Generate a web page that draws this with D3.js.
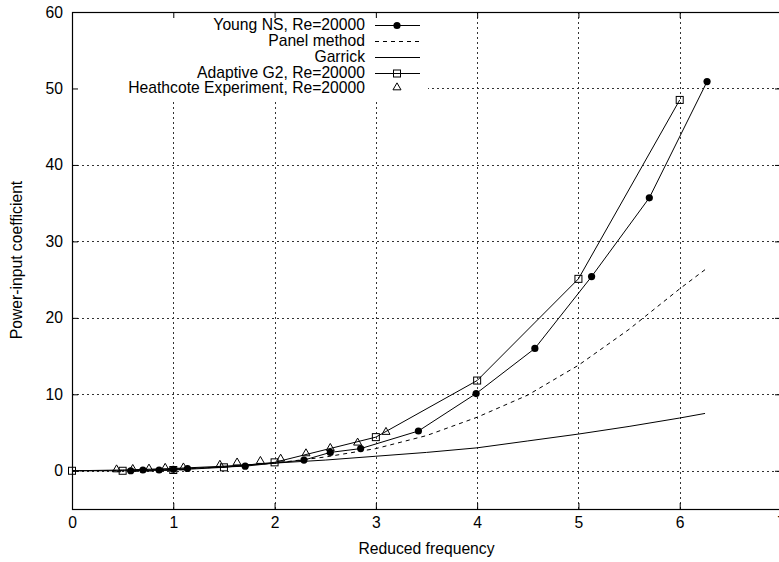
<!DOCTYPE html>
<html>
<head>
<meta charset="utf-8">
<script src="https://cdn.jsdelivr.net/npm/d3@7"></script>
<style>
  body { margin: 0; background: #fff; }
  svg { display: block; font-family: "Liberation Sans", Arial, sans-serif; }
</style>
</head>
<body>
<svg id="chart" width="779" height="562"></svg>
<script>
'use strict';

// Young NS, Re=20000 (filled circles)
var youngX = [0.58, 0.70, 0.86, 1.00, 1.14, 1.71, 2.29, 2.55, 2.85, 3.42, 3.99, 4.57, 5.13, 5.70, 6.27];
var youngY = [0.0, 0.1, 0.1, 0.2, 0.3, 0.6, 1.4, 2.4, 2.9, 5.2, 10.1, 16.0, 25.4, 35.7, 50.9];

// Panel method (dashed)
var panelX = [0, 0.5, 1.0, 1.5, 2.0, 2.5, 3.0, 3.5, 4.0, 4.5, 5.0, 5.5, 6.0, 6.25];
var panelY = [0, 0.05, 0.2, 0.5, 1.0, 1.8, 2.9, 4.6, 7.0, 9.9, 13.8, 18.5, 23.8, 26.3];

// Garrick (solid)
var garrickX = [0, 0.5, 1.0, 1.5, 2.0, 2.5, 3.0, 3.5, 4.0, 4.5, 5.0, 5.5, 6.0, 6.25];
var garrickY = [0, 0.1, 0.3, 0.6, 1.0, 1.4, 1.9, 2.4, 3.0, 3.9, 4.8, 5.8, 6.9, 7.5];

// Adaptive G2, Re=20000 (open squares)
var adaptX = [0, 0.5, 1.0, 1.5, 2.0, 3.0, 4.0, 5.0, 6.0];
var adaptY = [0, 0.0, 0.1, 0.45, 1.1, 4.4, 11.8, 25.1, 48.5];

// Heathcote Experiment, Re=20000 (open triangles)
var heathX = [0.44, 0.60, 0.76, 0.92, 1.10, 1.46, 1.63, 1.86, 2.06, 2.31, 2.55, 2.82, 3.10];
var heathY = [0.1, 0.15, 0.2, 0.3, 0.35, 0.7, 1.0, 1.2, 1.5, 2.2, 2.9, 3.6, 5.0];

var xTicks = [0, 1, 2, 3, 4, 5, 6, 7];
var yTicks = [0, 10, 20, 30, 40, 50, 60];

var legendNames = ['Young NS, Re=20000', 'Panel method', 'Garrick', 'Adaptive G2, Re=20000', 'Heathcote Experiment, Re=20000'];

var svg = d3.select('#chart');

var nLeft = 72, nRight = 781, nTop = 12, nBottom = 509;
var nFont = 15.7;

var xScale = d3.scaleLinear().domain([0, 7]).range([nLeft, nRight]);
var yScale = d3.scaleLinear().domain([-5, 60]).range([nBottom, nTop]);

function zip(xs, ys) {
	return xs.map(function(v, i) { return [v, ys[i]]; });
}
function snap(v) {
	return Math.round(v) + 0.5;
}

// grid (dotted)
var grid = svg.append('g');
grid.selectAll('line.gx')
	.data(xTicks.slice(1, -1))
	.enter().append('line')
	.attr('class', 'gx')
	.attr('x1', function(d) { return snap(xScale(d)); })
	.attr('x2', function(d) { return snap(xScale(d)); })
	.attr('y1', nTop).attr('y2', nBottom);
grid.selectAll('line.gy')
	.data(yTicks.slice(0, -1))
	.enter().append('line')
	.attr('class', 'gy')
	.attr('x1', nLeft).attr('x2', nRight)
	.attr('y1', function(d) { return snap(yScale(d)); })
	.attr('y2', function(d) { return snap(yScale(d)); });
grid.selectAll('line')
	.style('stroke', '#333')
	.style('stroke-width', '1px')
	.style('stroke-dasharray', '2,3');

// legend background hides grid
svg.append('rect')
	.attr('x', nLeft + 1).attr('y', nTop + 1)
	.attr('width', 428 - nLeft - 1).attr('height', 99 - nTop - 1)
	.attr('fill', '#fff');

// curves
var line = d3.line()
	.x(function(d) { return xScale(d[0]); })
	.y(function(d) { return yScale(d[1]); });

var plot = svg.append('g');

plot.append('path').datum(zip(garrickX, garrickY))
	.attr('d', line).attr('fill', 'none').attr('stroke', '#000').attr('stroke-width', 1);

plot.append('path').datum(zip(panelX, panelY))
	.attr('d', line).attr('fill', 'none').attr('stroke', '#000').attr('stroke-width', 1)
	.attr('stroke-dasharray', '4,4');

plot.append('path').datum(zip(youngX, youngY))
	.attr('d', line).attr('fill', 'none').attr('stroke', '#000').attr('stroke-width', 1);

plot.append('path').datum(zip(adaptX, adaptY))
	.attr('d', line).attr('fill', 'none').attr('stroke', '#000').attr('stroke-width', 1);

var symTri = d3.symbol().type(d3.symbolTriangle).size(28);

function drawCircle(g, x, y) {
	g.append('circle').attr('cx', x).attr('cy', y).attr('r', 3.6).attr('fill', '#000');
}
function drawSquare(g, x, y) {
	g.append('rect').attr('x', x - 3.5).attr('y', y - 3.5).attr('width', 7).attr('height', 7)
		.attr('fill', 'none').attr('stroke', '#000').attr('stroke-width', 1);
}
function drawTri(g, x, y) {
	g.append('path').attr('d', symTri()).attr('transform', 'translate(' + x + ',' + (y - 0.5) + ')')
		.attr('fill', 'none').attr('stroke', '#000').attr('stroke-width', 1);
}

plot.selectAll('circle.young')
	.data(zip(youngX, youngY))
	.enter().append('circle')
	.attr('cx', function(d) { return xScale(d[0]); })
	.attr('cy', function(d) { return yScale(d[1]); })
	.attr('r', 3.6).attr('fill', '#000');

plot.selectAll('rect.adapt')
	.data(zip(adaptX, adaptY))
	.enter().append('rect')
	.attr('x', function(d) { return xScale(d[0]) - 3.5; })
	.attr('y', function(d) { return yScale(d[1]) - 3.5; })
	.attr('width', 7).attr('height', 7)
	.attr('fill', 'none').attr('stroke', '#000').attr('stroke-width', 1);

plot.selectAll('path.heath')
	.data(zip(heathX, heathY))
	.enter().append('path')
	.attr('d', symTri())
	.attr('transform', function(d) { return 'translate(' + xScale(d[0]) + ',' + (yScale(d[1]) - 0.5) + ')'; })
	.attr('fill', 'none').attr('stroke', '#000').attr('stroke-width', 1);

// axes: ticks inward, mirrored
var fmt = d3.format('d');
var axes = svg.append('g');
axes.append('g')
	.attr('transform', 'translate(0,' + nBottom + ')')
	.call(d3.axisBottom(xScale).tickValues(xTicks).tickFormat(fmt).tickSize(-6).tickSizeOuter(0).tickPadding(8));
axes.append('g')
	.attr('transform', 'translate(0,' + nTop + ')')
	.call(d3.axisTop(xScale).tickValues(xTicks).tickSize(-6).tickSizeOuter(0).tickFormat(''));
axes.append('g')
	.attr('transform', 'translate(' + nLeft + ',0)')
	.call(d3.axisLeft(yScale).tickValues(yTicks).tickFormat(fmt).tickSize(-6).tickSizeOuter(0).tickPadding(9));
axes.append('g')
	.attr('transform', 'translate(' + nRight + ',0)')
	.call(d3.axisRight(yScale).tickValues(yTicks).tickSize(-6).tickSizeOuter(0).tickFormat(''));
axes.selectAll('.domain').remove();
axes.selectAll('.tick line').attr('stroke', '#000');
axes.selectAll('.tick text')
	.attr('font-family', '"Liberation Sans", Arial, sans-serif')
	.attr('font-size', nFont)
	.attr('fill', '#000');

// border
svg.append('rect')
	.attr('x', nLeft + 0.5).attr('y', nTop + 0.5)
	.attr('width', nRight - nLeft).attr('height', nBottom - nTop)
	.attr('fill', 'none').attr('stroke', '#000').attr('stroke-width', 1.2);

// axis titles
svg.append('text')
	.attr('x', (nLeft + nRight) / 2).attr('y', 554)
	.attr('text-anchor', 'middle')
	.attr('font-size', nFont)
	.text('Reduced frequency');
svg.append('text')
	.attr('transform', 'translate(22,260) rotate(-90)')
	.attr('text-anchor', 'middle')
	.attr('font-size', nFont)
	.text('Power-input coefficient');

// legend
var legend = svg.append('g');
var legendY = [25, 41, 57, 73, 88];
legend.selectAll('text')
	.data(legendNames)
	.enter().append('text')
	.attr('x', 365)
	.attr('y', function(d, i) { return legendY[i]; })
	.attr('dy', '0.35em')
	.attr('text-anchor', 'end')
	.attr('font-size', nFont)
	.text(function(d) { return d; });

[0, 1, 2, 3].forEach(function(i) {
	legend.append('line')
		.attr('x1', 375).attr('x2', 420)
		.attr('y1', legendY[i] + 0.5).attr('y2', legendY[i] + 0.5)
		.attr('stroke', '#000').attr('stroke-width', 1)
		.attr('stroke-dasharray', i == 1 ? '4,4' : null);
});
drawCircle(legend, 397, legendY[0] + 0.5);
drawSquare(legend, 397, legendY[3] + 0.5);
drawTri(legend, 397, legendY[4]);
</script>
</body>
</html>
